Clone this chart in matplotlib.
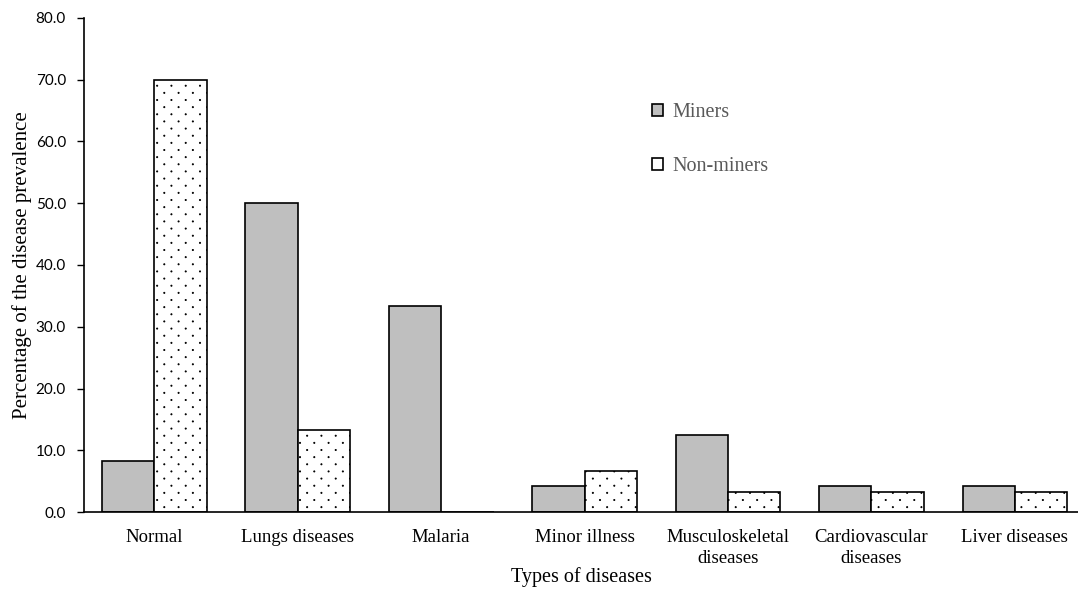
import matplotlib
matplotlib.use("Agg")
import matplotlib.pyplot as plt
import matplotlib.hatch as mhatch
from matplotlib.path import Path
import numpy as np

categories = ["Normal", "Lungs diseases", "Malaria", "Minor illness",
              "Musculoskeletal\ndiseases", "Cardiovascular\ndiseases", "Liver diseases"]
miners = [8.3, 50.0, 33.3, 4.2, 12.5, 4.2, 4.2]
non_miners = [70.0, 13.3, 0.0, 6.7, 3.3, 3.3, 3.3]
yticks = [0, 10, 20, 30, 40, 50, 60, 70, 80]


# sparse staggered dot hatch (replaces the default '.' pattern)
class SparseDots(mhatch.HatchPatternBase):
    ncols = 7
    radius = 0.006

    def __init__(self, hatch, density):
        n = hatch.count('.')
        self.active = n > 0
        circ = Path.unit_circle()
        self.cv = circ.vertices
        self.cc = circ.codes
        self.centers = []
        if self.active:
            nrows = 2 * self.ncols
            for r in range(nrows + 1):
                y = r / nrows
                if r % 2 == 0:
                    xs = [c / self.ncols for c in range(self.ncols + 1)]
                else:
                    xs = [(c + 0.5) / self.ncols for c in range(self.ncols)]
                for xx in xs:
                    self.centers.append((xx, y))
        self.num_vertices = len(self.centers) * len(self.cv)

    def set_vertices_and_codes(self, vertices, codes):
        k = len(self.cv)
        for i, (cx, cy) in enumerate(self.centers):
            vertices[i * k:(i + 1) * k] = self.cv * self.radius + [cx, cy]
            codes[i * k:(i + 1) * k] = self.cc


mhatch._hatch_types = [t for t in mhatch._hatch_types if t is not mhatch.SmallFilledCircles] + [SparseDots]

plt.rcParams['hatch.linewidth'] = 0.6
serif = ["Liberation Serif", "DejaVu Serif"]

fig = plt.figure(figsize=(10.78, 5.89), dpi=100)
ax = fig.add_axes([84/1078, 1-512/589, 1-84/1078, (512-18)/589])

x = np.arange(len(categories))
w = 0.365
ax.bar(x - w/2, miners, w, color="#bfbfbf", edgecolor="black", linewidth=1.2, label="Miners")
ax.bar(x + w/2, non_miners, w, color="white", edgecolor="black", linewidth=1.2,
       hatch=".", label="Non-miners")

ax.set_xlim(-0.49, 6.44)
ax.set_ylim(0, 80)
ax.set_yticks(yticks)
ax.set_yticklabels([f"{v:.1f}" for v in yticks], family=["Lato", "DejaVu Sans"], fontsize=11)
ax.set_xticks(x)
ax.set_xticklabels(categories, family=serif, fontsize=13.5, linespacing=1.35)
ax.tick_params(axis='x', length=0, pad=12)
ax.tick_params(axis='y', length=5, direction='out', width=1, pad=8)
for s in ["top", "right"]:
    ax.spines[s].set_visible(False)
ax.spines["left"].set_linewidth(1.2)
ax.spines["bottom"].set_linewidth(1.2)

ax.set_xlabel("Types of diseases", family=serif, fontsize=14.5, labelpad=0)
ax.set_ylabel("Percentage of the disease prevalence", family=serif, fontsize=15, labelpad=3)

leg = ax.legend(loc="upper left", bbox_to_anchor=(0.553, 0.865), frameon=False,
                prop={"family": serif, "size": 14.5}, handlelength=0.55, handleheight=0.55,
                handletextpad=0.45, labelspacing=1.75)
for t in leg.get_texts():
    t.set_color("#595959")

fig.savefig("out.png", dpi=100)
